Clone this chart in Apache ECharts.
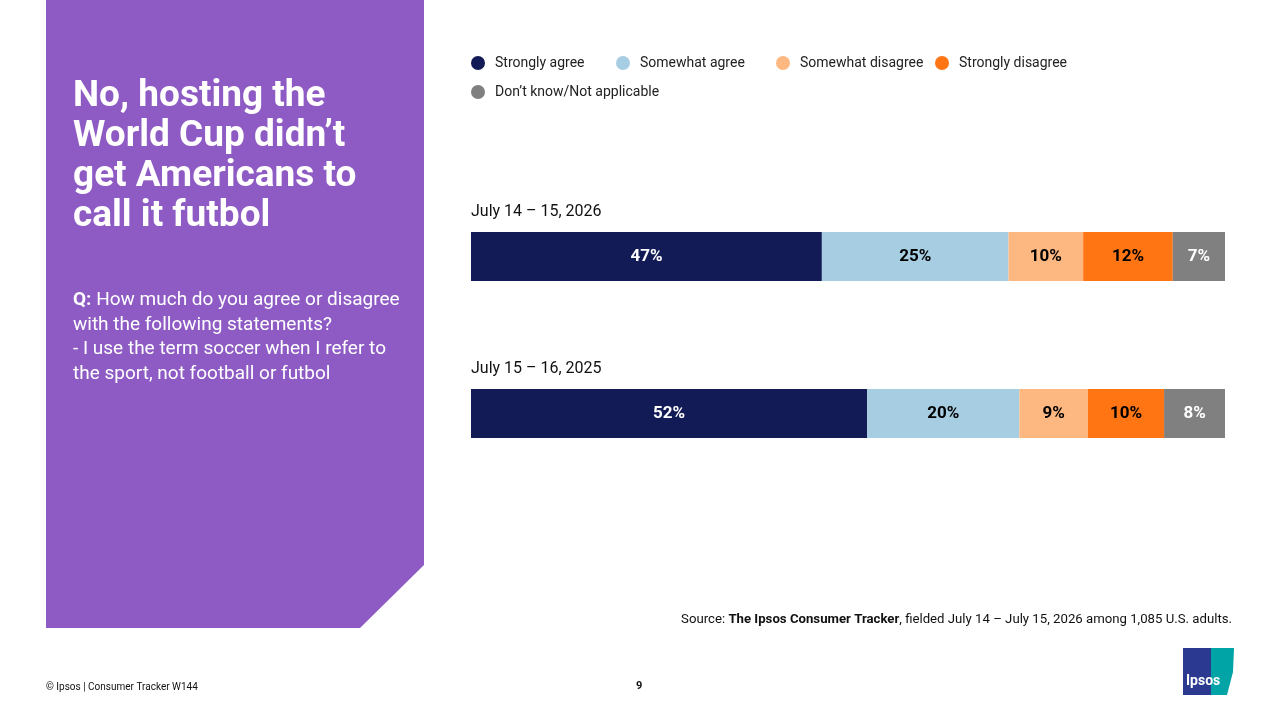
<!DOCTYPE html>
<html>
<head>
<meta charset="utf-8">
<script src="https://cdn.jsdelivr.net/npm/echarts@6/dist/echarts.min.js"></script>
<style>
html,body{margin:0;padding:0;background:#fff;}
#chart{width:1280px;height:720px;}
</style>
</head>
<body>
<div id="chart"></div>
<script>
const segments = ['Strongly agree', 'Somewhat agree', 'Somewhat disagree', 'Strongly disagree', 'Don\u2019t know/Not applicable'];
const periods = ['July 14 \u2013 15, 2026', 'July 15 \u2013 16, 2025'];
const wave2026 = [47, 25, 10, 12, 7];
const wave2025 = [52, 20, 9, 10, 8];
const colors = ['#131B57', '#A6CDE2', '#FDB882', '#FF7413', '#808080'];
const labelColors = ['#ffffff', '#000000', '#000000', '#000000', '#ffffff'];

const waves = [wave2026, wave2025];
const FONT = 'Roboto';

const chart = echarts.init(document.getElementById('chart'));

const grids = [
  {left: 471, right: 55, top: 232, height: 49},
  {left: 471, right: 55, top: 389, height: 49}
];
const xAxes = waves.map((w, i) => ({
  gridIndex: i, type: 'value', min: 0, max: w.reduce((a, b) => a + b, 0),
  show: false
}));
const yAxes = periods.map((p, i) => ({
  gridIndex: i, type: 'category', data: [p],
  axisLine: {show: false}, axisTick: {show: false}, axisLabel: {show: false},
  name: p, nameLocation: 'end', nameGap: 20,
  nameTextStyle: {align: 'left', verticalAlign: 'middle', fontFamily: FONT, fontSize: 16, color: '#111'}
}));

const series = [];
waves.forEach((w, gi) => {
  segments.forEach((s, si) => {
    series.push({
      name: s, type: 'bar', stack: 'g' + gi,
      xAxisIndex: gi, yAxisIndex: gi,
      barWidth: '100%',
      data: [w[si]],
      itemStyle: {color: colors[si]},
      label: {
        show: true, position: 'inside',
        formatter: '{c}%',
        color: labelColors[si], fontFamily: FONT, fontWeight: 'bold', fontSize: 17
      },
      emphasis: {disabled: true}
    });
  });
});

const legendPos = [[471, 56], [616, 56], [776, 56], [935, 56], [471, 85]];
const legends = segments.map((s, i) => ({
  data: [{name: s, icon: 'circle'}],
  left: legendPos[i][0], top: legendPos[i][1],
  itemWidth: 14, itemHeight: 14, padding: 0,
  textStyle: {fontFamily: FONT, fontSize: 14, color: '#222', padding: [0, 0, 0, 5]}
}));

chart.setOption({
  animation: false,
  grid: grids,
  xAxis: xAxes,
  yAxis: yAxes,
  legend: legends,
  series: series,
  graphic: [
    {type: 'polygon', shape: {points: [[46, 0], [424, 0], [424, 565], [360, 628], [46, 628]]},
     style: {fill: '#8E5BC4'}, z: -1},
    {type: 'text', left: 73, top: 77,
     style: {text: 'No, hosting the\nWorld Cup didn\u2019t\nget Americans to\ncall it futbol',
       fill: '#fff', font: 'bold 37px Roboto', lineHeight: 40}},
    {type: 'text', left: 73, top: 288,
     style: {text: '{b|Q:} How much do you agree or disagree\nwith the following statements?\n- I use the term soccer when I refer to\nthe sport, not football or futbol',
       fill: '#fff', font: '19px Roboto', lineHeight: 24.5,
       rich: {b: {fontWeight: 'bold', fill: '#fff', fontSize: 19, fontFamily: FONT}}}},
    {type: 'text', right: 48, top: 613,
     style: {text: 'Source: {b|The Ipsos Consumer Tracker}, fielded July 14 \u2013 July 15, 2026 among 1,085 U.S. adults.',
       fill: '#111', font: '13.2px Roboto',
       rich: {b: {fontWeight: 'bold', fill: '#111', fontSize: 13.2, fontFamily: FONT}}}},
    {type: 'text', left: 46, top: 682,
     style: {text: '\u00A9 Ipsos | Consumer Tracker W144', fill: '#111', font: '10px Roboto'}},
    {type: 'text', left: 636, top: 681,
     style: {text: '9', fill: '#111', font: 'bold 11px Roboto'}},
    {type: 'rect', shape: {x: 1183, y: 648, width: 30, height: 47}, style: {fill: '#2B3990'}},
    {type: 'polygon', shape: {points: [[1211, 648], [1234, 648], [1233, 672], [1227, 695], [1211, 695]]}, style: {fill: '#00A3A6'}},
    {type: 'text', left: 1186, top: 674, style: {text: 'Ipsos', fill: '#fff', font: 'bold 14px Roboto'}}
  ]
});
</script>
</body>
</html>
